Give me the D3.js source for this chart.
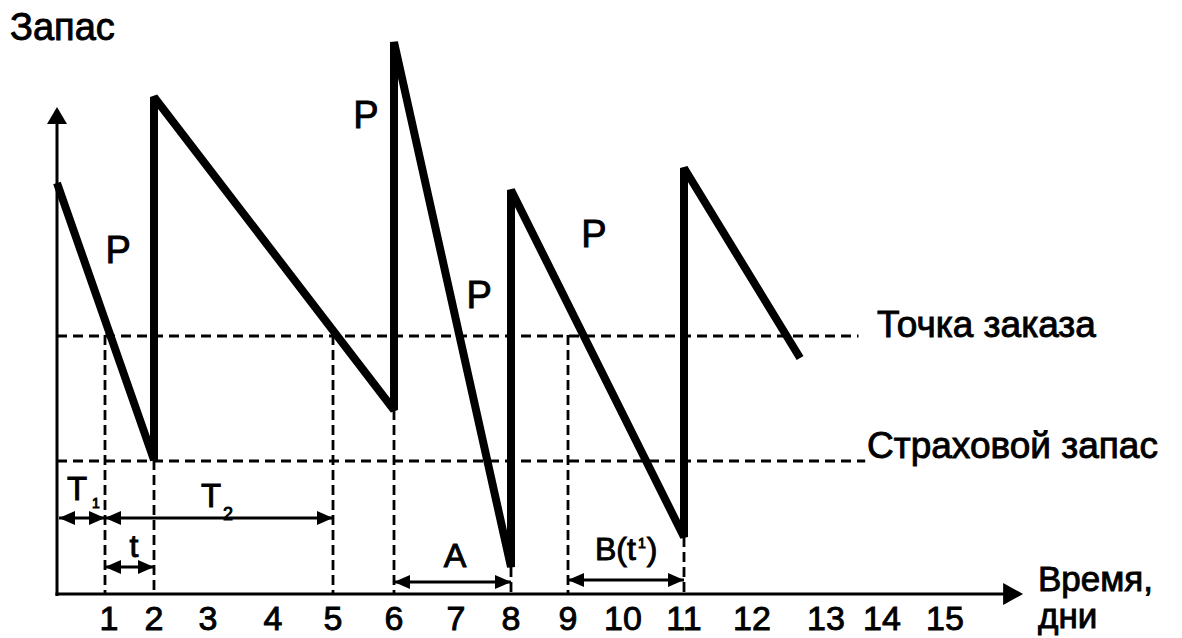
<!DOCTYPE html>
<html><head><meta charset="utf-8">
<script src="https://cdn.jsdelivr.net/npm/d3@7"></script>
<style>body{margin:0;background:#fff}svg{display:block}text{stroke:#000;stroke-width:0.9px}</style>
</head><body><svg id="c" width="1182" height="638"></svg>
<script>
// ---------- data ----------
const dayDomain   = [0,1,2,3,4,5,6,7,8,9,10,11,12,13,14,15];
const tickLabels  = ["1","2","3","4","5","6","7","8","9","10","11","12","13","14","15"];
const stockDays   = [0, 2, 2, 6, 6, 8, 8, 11, 11, 12.65];
const stockLevels = [82.4, 27, 99.6, 37, 110.6, 5.6, 81, 11.6, 85.4, 47.4];
const reorderPoint = 52;
const safetyStock  = 27;
const guideDays   = [1, 2, 5, 6, 8, 9, 11];
const guideTops   = [52, 27, 52, 37, 5.6, 52, 11.6];
const spanNames   = ["T1", "T2", "t", "A", "B"];
const spanFrom    = [0, 1, 1, 6, 9];
const spanTo      = [1, 5, 2, 8, 11];
const spanLevel   = [15.4, 15.4, 5.6, 2.6, 3];
const pDays       = [1.27, 5.54, 7.42, 9.47];
const pLevels     = [66.4, 93.4, 57.4, 69.6];

// ---------- layout ----------
const svg = d3.select("#c");
const FONT = "'Liberation Sans', Arial, sans-serif";
const x = d3.scaleLinear().domain(dayDomain)
  .range([57,105,154,208,273,333,394,456,511,568,623,684,752,826,882,945]);
const y = d3.scaleLinear().domain([0,100]).range([595,95]);
const y0 = y(0), xAxisY = 594;
const axisX = x(0);

// y axis
svg.append("line").attr("x1",axisX).attr("x2",axisX).attr("y1",y0+1).attr("y2",120)
  .attr("stroke","#000").attr("stroke-width",3);
svg.append("path").attr("d",`M${axisX},107 L${axisX-10},124 L${axisX+10},124 Z`).attr("fill","#000");
// x axis
const xEnd = x(16.24);
svg.append("line").attr("x1",axisX-1.5).attr("x2",xEnd-16).attr("y1",xAxisY).attr("y2",xAxisY)
  .attr("stroke","#000").attr("stroke-width",3);
svg.append("path").attr("d",`M${xEnd},${xAxisY} L${xEnd-20},${xAxisY-11} L${xEnd-20},${xAxisY+11} Z`).attr("fill","#000");

// tick labels
svg.append("g").selectAll("text").data(tickLabels).join("text")
  .attr("x",(d,i)=>x(i+1)+(i===0?4:0)).attr("y",630).attr("text-anchor","middle")
  .attr("font-family",FONT).attr("font-size",34).text(d=>d);

// horizontal dashed levels
function dashed(sel){ return sel.attr("stroke","#000").attr("stroke-width",2.8).attr("stroke-dasharray","10,6"); }
dashed(svg.append("line").attr("x1",axisX).attr("x2",x(13.58)).attr("y1",y(reorderPoint)+1).attr("y2",y(reorderPoint)+1));
dashed(svg.append("line").attr("x1",axisX).attr("x2",x(13.7)).attr("y1",y(safetyStock)+1).attr("y2",y(safetyStock)+1));

// vertical dashed guides
svg.append("g").selectAll("line").data(guideDays).join("line")
  .attr("x1",d=>x(d)).attr("x2",d=>x(d))
  .attr("y1",(d,i)=>y(guideTops[i])).attr("y2",y0)
  .attr("stroke","#000").attr("stroke-width",2.8).attr("stroke-dasharray","10,5");

// stock sawtooth
const pts = stockDays.map((d,i)=>[d,stockLevels[i]]);
svg.append("path").datum(pts)
  .attr("d", d3.line().x(d=>x(d[0])).y(d=>y(d[1])))
  .attr("fill","none").attr("stroke","#000").attr("stroke-width",8)
  .attr("stroke-linejoin","miter").attr("stroke-miterlimit",1.6);

// interval double arrows
const AH = 16, AW = 7;
spanNames.forEach((n,i)=>{
  const x1 = x(spanFrom[i]) + (spanFrom[i]===0 ? 2 : 0), x2 = x(spanTo[i]), yy = y(spanLevel[i]);
  svg.append("line").attr("x1",x1).attr("x2",x2).attr("y1",yy).attr("y2",yy)
    .attr("stroke","#000").attr("stroke-width",3);
  svg.append("path").attr("d",`M${x1},${yy} L${x1+AH},${yy-AW} L${x1+AH},${yy+AW} Z`).attr("fill","#000");
  svg.append("path").attr("d",`M${x2},${yy} L${x2-AH},${yy-AW} L${x2-AH},${yy+AW} Z`).attr("fill","#000");
});

// interval labels
function txt(xp, yp, s, size, anchor){
  return svg.append("text").attr("x",xp).attr("y",yp).attr("font-family",FONT)
    .attr("font-size",size).attr("text-anchor",anchor||"start").text(s);
}
txt(77,500,"T",33,"middle");
txt(92,508,"1",14);
txt(211,507,"T",33,"middle");
txt(223,520,"2",18);
txt(134,557,"t",32,"middle");
txt(455,567,"A",34,"middle");
const bt = svg.append("text").attr("x",595).attr("y",560).attr("font-family",FONT).attr("font-size",32);
bt.append("tspan").text("B(t");
bt.append("tspan").attr("font-size",14).attr("dy",-12).attr("dx",2).text("1");
bt.append("tspan").attr("dy",12).attr("dx",1).text(")");

// P labels
svg.append("g").selectAll("text").data(pDays).join("text")
  .attr("x",d=>x(d)).attr("y",(d,i)=>y(pLevels[i])).attr("text-anchor","middle")
  .attr("font-family",FONT).attr("font-size",38).text("P");

// axis titles and level labels
txt(10,40,"Запас",38);
txt(877,337,"Точка заказа",37);
txt(867,458,"Страховой запас",37);
txt(1038,591,"Время,",35);
txt(1038,628,"дни",35);
</script></body></html>
